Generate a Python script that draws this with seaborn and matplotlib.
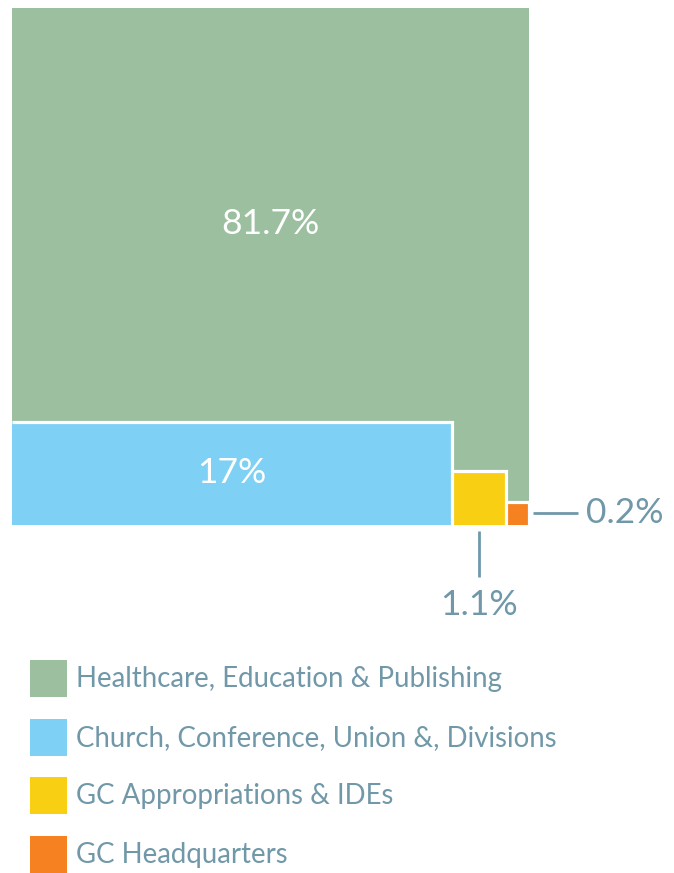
import numpy as np
import matplotlib
matplotlib.use("Agg")
import matplotlib.pyplot as plt
from matplotlib.patches import Rectangle
import seaborn as sns

# Budget shares (percent of total)
categories = [
    "Healthcare, Education & Publishing",
    "Church, Conference, Union &, Divisions",
    "GC Appropriations & IDEs",
    "GC Headquarters",
]
shares = [81.7, 17, 1.1, 0.2]
value_labels = ["81.7%", "17%", "1.1%", "0.2%"]
palette = ["#9BBF9F", "#7ED1F5", "#F9CF14", "#F68121"]

sns.set_theme(style="white")
plt.rcParams["font.family"] = ["Lato", "DejaVu Sans"]

TEXT = "#7098A9"
W, H = 674, 873
fig = plt.figure(figsize=(W / 100, H / 100), dpi=100)
fig.patch.set_facecolor("white")

# square area chart: the whole square is 100 %
SIDE_PX = 517
ax = fig.add_axes([12 / W, (H - 525) / H, SIDE_PX / W, SIDE_PX / H])
ax.set_xlim(0, 1)
ax.set_ylim(0, 1)
ax.axis("off")


def px(n):
    return n / SIDE_PX


frac = np.array(shares) / 100.0
side_y = np.sqrt(frac[2])
side_o = np.sqrt(frac[3])
blue_w = 1 - side_y - side_o
blue_h = frac[1] / blue_w

# rectangles: (left, bottom, width, height)
rects = [
    (0.0, 0.0, 1.0, 1.0),
    (0.0, 0.0, blue_w, blue_h),
    (blue_w, 0.0, side_y, side_y),
    (blue_w + side_y, 0.0, side_o, side_o),
]

for (x0, y0, w, h), c in zip(rects, palette):
    ax.bar(x0, h, width=w, bottom=y0, align="edge", color=c, linewidth=0, zorder=1)

# white separators along the top and right side of the inner blocks
for (x0, y0, w, h) in rects[1:]:
    ax.plot([x0, x0 + w, x0 + w], [y0 + h, y0 + h, y0], color="white",
            lw=2.3, solid_joinstyle="miter", solid_capstyle="butt", zorder=2)

NUM_FS = 25.5

# value labels
ax.text(0.5, 0.582, value_labels[0], color="white", fontsize=NUM_FS,
        ha="center", va="center", zorder=3)
ax.text(blue_w / 2, blue_h / 2, value_labels[1], color="white", fontsize=NUM_FS,
        ha="center", va="center", zorder=3)

# leader for the yellow block
yx = blue_w + side_y / 2
ax.plot([yx, yx], [-px(6), -px(52)], color=TEXT, lw=2.0, clip_on=False,
        solid_capstyle="butt")
ax.text(yx, -px(80), value_labels[2], color=TEXT, fontsize=NUM_FS,
        ha="center", va="center", clip_on=False)

# leader for the orange block
oy = side_o / 2
ax.plot([1 + px(4), 1 + px(49)], [oy, oy], color=TEXT, lw=2.0, clip_on=False,
        solid_capstyle="butt")
ax.text(1 + px(57), oy, value_labels[3], color=TEXT, fontsize=NUM_FS,
        ha="left", va="center", clip_on=False)

# legend
sq = 37
for i, (name, c) in enumerate(zip(categories, palette)):
    top = 660 + i * 58.7
    fig.add_artist(Rectangle((30 / W, (H - top - sq) / H), sq / W, sq / H,
                             transform=fig.transFigure, color=c, lw=0))
    fig.text(76 / W, (H - top - sq / 2 - 0.5) / H, name, color=TEXT,
             fontsize=19.9, ha="left", va="center")

fig.savefig("out.png", dpi=100, facecolor="white")
